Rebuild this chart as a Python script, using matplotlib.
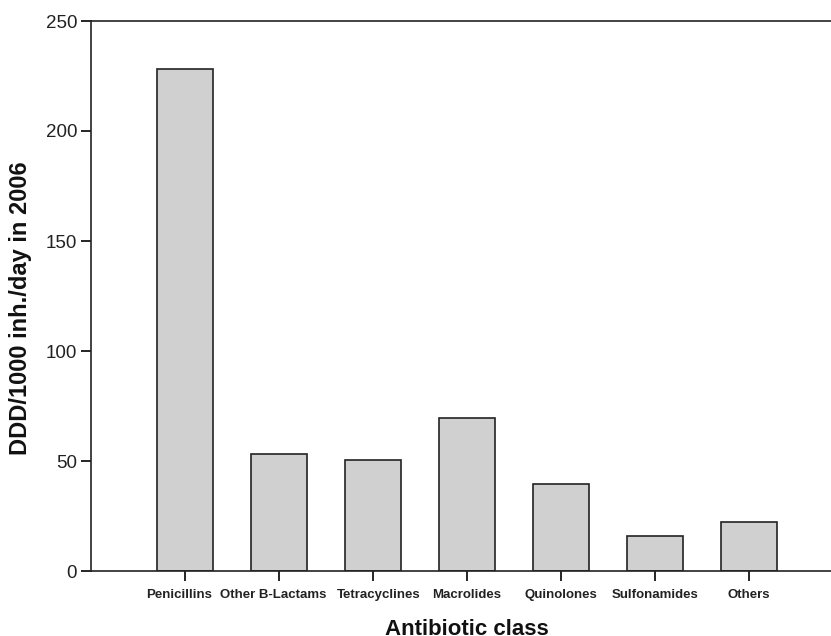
import matplotlib
matplotlib.use("Agg")
import matplotlib.pyplot as plt
import matplotlib.transforms as mtransforms

categories = ["Penicillins", "Other B-Lactams", "Tetracyclines", "Macrolides",
              "Quinolones", "Sulfonamides", "Others"]
values = [228, 53.2, 50.5, 69.5, 39.7, 15.8, 22.1]
yticks = [0, 50, 100, 150, 200, 250]

plt.rcParams['font.family'] = ['Liberation Sans', 'DejaVu Sans']

fig = plt.figure(figsize=(8.31, 6.36), dpi=100)
ax = fig.add_axes([91/831, 65/636, 752/831, 550/636])

pos = list(range(1, len(categories) + 1))
ax.bar(pos, values, width=0.6, color='#cfd0cf', edgecolor='#222222', linewidth=1.2)

ax.set_xlim(0, 8)
ax.set_ylim(0, 250)
ax.set_yticks(yticks)
ax.set_xticks(pos)
ax.set_xticklabels(categories, fontsize=9.5, fontweight='bold')
ax.tick_params(axis='y', labelsize=13.5, length=7, width=1.2, direction='out', pad=3,
               labelcolor='#222222')
ax.tick_params(axis='x', length=7, width=1.2, direction='out', pad=6, labelcolor='#222222')

# small horizontal nudges of the first labels (as in the reference, to avoid overlap)
shifts_px = [-6, -5.5, 5.5, 0, 0, 0, 0]
for lab, dx in zip(ax.get_xticklabels(), shifts_px):
    if dx:
        off = mtransforms.ScaledTranslation(dx / 100, 0, fig.dpi_scale_trans)
        lab.set_transform(lab.get_transform() + off)

for s in ['left', 'bottom', 'top', 'right']:
    ax.spines[s].set_linewidth(1.2)
    ax.spines[s].set_color('#222222')

ax.set_ylabel("DDD/1000 inh./day in 2006", fontsize=17, fontweight='bold',
              color='#111111')
ax.yaxis.set_label_coords(-0.078, 0.478)
ax.set_xlabel("Antibiotic class", fontsize=16, fontweight='bold', labelpad=13,
              color='#111111')

fig.savefig("out.png", dpi=100)
